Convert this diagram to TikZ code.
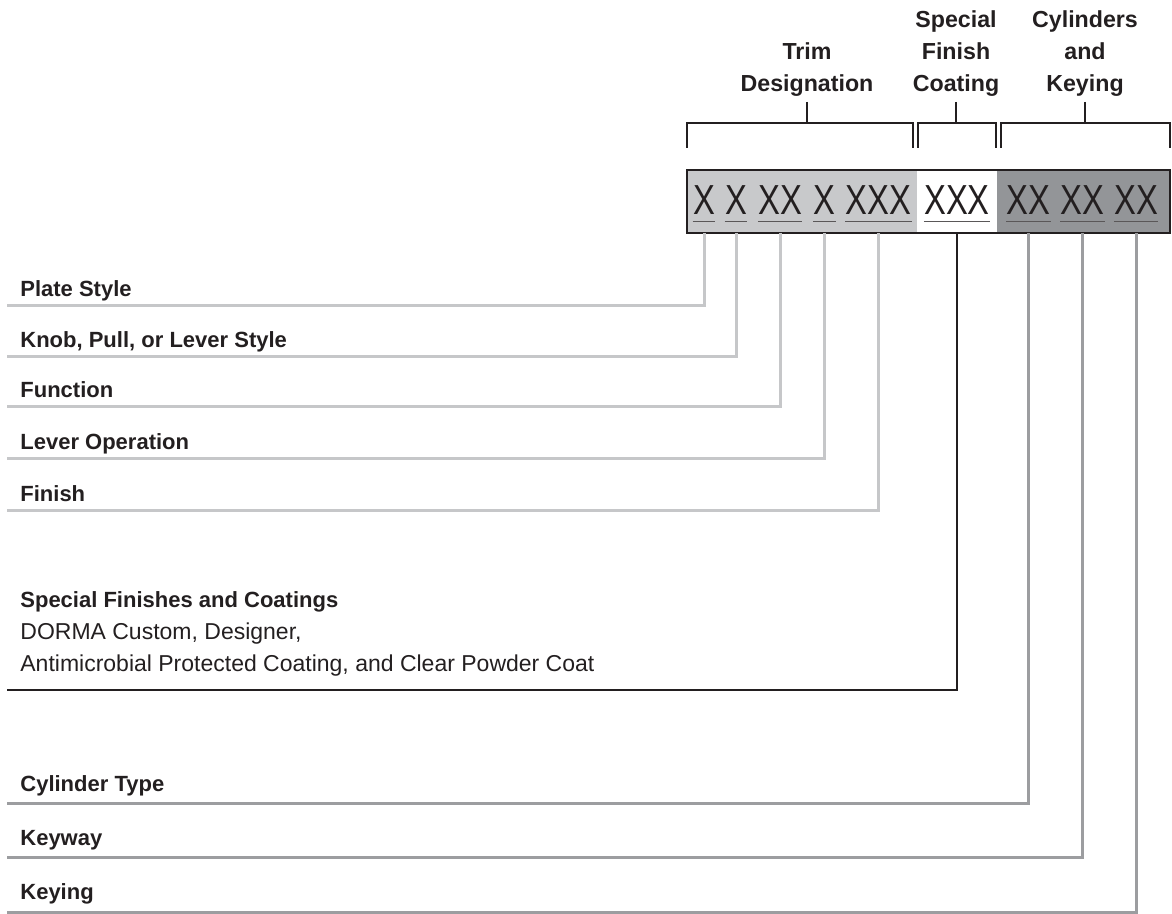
\documentclass[tikz,border=0pt]{standalone}
\usepackage{fontspec}
\setmainfont{Liberation Sans}
\newcommand{\slimx}[1]{\scalebox{0.78}[1]{#1}}
\begin{document}
\begin{tikzpicture}[x=0.5pt,y=-0.5pt,
  hdr/.style={anchor=south,align=center,inner sep=0pt,text=ink,font=\fontsize{11.6}{16}\selectfont\bfseries},
  lbl/.style={anchor=base west,inner sep=0pt,text=ink,font=\fontsize{11}{16}\selectfont\bfseries},
  grp/.style={anchor=base,inner sep=0pt,text=ink,font=\fontsize{21}{24}\selectfont},
  uline/.style={line width=0.6pt,draw=ink!75},
  bracket/.style={line width=1.3pt,draw=ink},
  leadlight/.style={line width=1.5pt,draw=leadpale},
  leaddark/.style={line width=1.5pt,draw=leadmid},
  leadblack/.style={line width=1.3pt,draw=ink}]
  \definecolor{ink}{HTML}{231F20}
  \definecolor{trimgrey}{HTML}{C8C9CB}
  \definecolor{cylgrey}{HTML}{939598}
  \definecolor{leadpale}{HTML}{C6C7C9}
  \definecolor{leadmid}{HTML}{9C9DA0}
  \useasboundingbox (0,0) rectangle (1172,914);

  %% the code box: trim / special finish / cylinders
  \fill[trimgrey] (687,170) rectangle (917,233);
  \fill[cylgrey] (997,170) rectangle (1170,233);
  \draw[line width=1.3pt,ink] (687,170) rectangle (1170,233);
  \coordinate (codebot) at (0,233);

  %% groups of the code, each underlined
  \node[grp] (g1) at (704,215) {\slimx{X}};
  \node[grp] (g2) at (736,215) {\slimx{X}};
  \node[grp] (g3) at (780,215) {\slimx{XX}};
  \node[grp] (g4) at (824.5,215) {\slimx{X}};
  \node[grp] (g5) at (878.5,215) {\slimx{XXX}};
  \node[grp] (g6) at (957,215) {\slimx{XXX}};
  \node[grp] (g7) at (1028.5,215) {\slimx{XX}};
  \node[grp] (g8) at (1082.5,215) {\slimx{XX}};
  \node[grp] (g9) at (1136,215) {\slimx{XX}};
  \foreach \g in {g1,g2,g3,g4,g5,g6,g7,g8,g9}
    \draw[uline] ([yshift=-3pt]\g.south west) -- ([yshift=-3pt]\g.south east);

  %% headings and their brackets
  \node[hdr] (hd-trim) at (807,97) {Trim\\Designation};
  \node[hdr] (hd-spec) at (956,97) {Special\\Finish\\Coating};
  \node[hdr] (hd-cyl) at (1085,97) {Cylinders\\and\\Keying};
  \draw[bracket] (687,148) |- (913,123) -- (913,148);
  \draw[bracket] (918,148) |- (996,123) -- (996,148);
  \draw[bracket] (1001,148) |- (1170,123) -- (1170,148);
  \draw[bracket] ([yshift=-2.5pt]hd-trim.south) -- (hd-trim.south |- 0,123);
  \draw[bracket] ([yshift=-2.5pt]hd-spec.south) -- (hd-spec.south |- 0,123);
  \draw[bracket] ([yshift=-2.5pt]hd-cyl.south) -- (hd-cyl.south |- 0,123);

  %% labels on the left, each sitting on its leader line
  \node[lbl] (plate) at (20,297) {Plate Style};
  \node[lbl] (knob) at (20,348) {Knob, Pull, or Lever Style};
  \node[lbl] (func) at (20,398) {Function};
  \node[lbl] (leverop) at (20,449) {Lever Operation};
  \node[lbl] (finish) at (20,501) {Finish};
  \node[anchor=south west,align=left,inner sep=0pt,text=ink,font=\fontsize{11.5}{16}\selectfont] (special) at (20,677)
    {{\fontsize{11}{16}\selectfont\bfseries Special Finishes and Coatings}\\DORMA Custom, Designer,\\Antimicrobial Protected Coating, and Clear Powder Coat};
  \node[lbl] (cyltype) at (20,791) {Cylinder Type};
  \node[lbl] (keyway) at (20,845) {Keyway};
  \node[lbl] (keying) at (20,899) {Keying};

  \coordinate (plate-end) at (7,306);
  \coordinate (knob-end) at (7,357);
  \coordinate (func-end) at (7,407);
  \coordinate (leverop-end) at (7,458);
  \coordinate (finish-end) at (7,510);
  \coordinate (special-end) at (7,690);
  \coordinate (cyltype-end) at (7,803);
  \coordinate (keyway-end) at (7,857);
  \coordinate (keying-end) at (7,912);

  %% leaders from the code down and out to the labels
  \draw[leadlight] (g1 |- codebot) |- (plate-end);
  \draw[leadlight] (g2 |- codebot) |- (knob-end);
  \draw[leadlight] (g3 |- codebot) |- (func-end);
  \draw[leadlight] (g4 |- codebot) |- (leverop-end);
  \draw[leadlight] (g5 |- codebot) |- (finish-end);
  \draw[leadblack] (g6 |- codebot) |- (special-end);
  \draw[leaddark] (g7 |- codebot) |- (cyltype-end);
  \draw[leaddark] (g8 |- codebot) |- (keyway-end);
  \draw[leaddark] (g9 |- codebot) |- (keying-end);
\end{tikzpicture}
\end{document}
